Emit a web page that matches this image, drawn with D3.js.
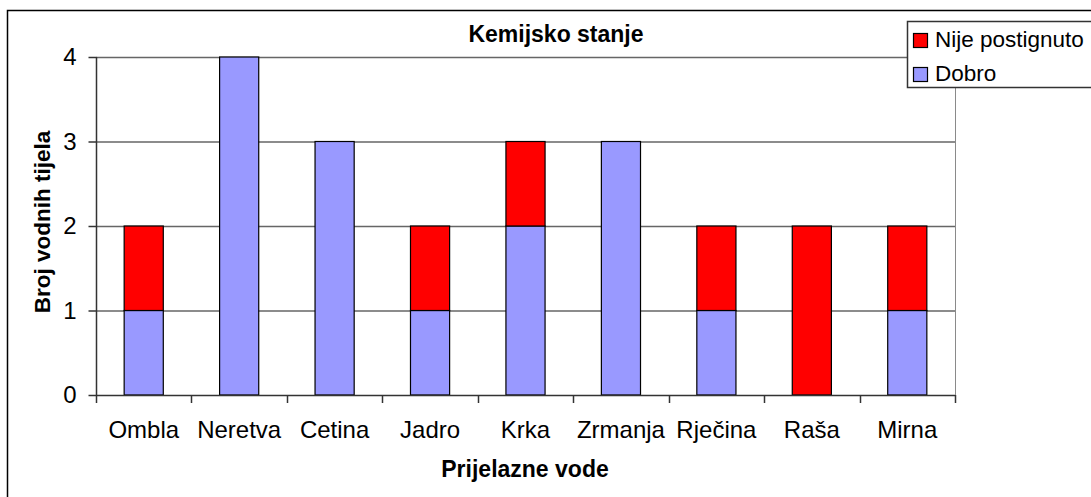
<!DOCTYPE html>
<html>
<head>
<meta charset="utf-8">
<script src="https://cdn.jsdelivr.net/npm/d3@7"></script>
<style>
  body { margin: 0; background: #fff; }
  svg { display: block; font-family: "Liberation Sans", Arial, sans-serif; }
</style>
</head>
<body>
<div id="chart"></div>
<script>
var categories = ["Ombla", "Neretva", "Cetina", "Jadro", "Krka", "Zrmanja", "Rječina", "Raša", "Mirna"];
var dobro = [1, 4, 3, 1, 2, 3, 1, 0, 1];
var nijePostignuto = [1, 0, 0, 1, 1, 0, 1, 2, 1];
var yTicks = [0, 1, 2, 3, 4];
var seriesNames = ["Nije postignuto", "Dobro"];

document.addEventListener('DOMContentLoaded', main);

function main() {
    var width = 1091, height = 497;
    var left = 96, right = 955, top = 57, bottom = 395;

    var svg = d3.select("#chart")
        .append("svg")
        .attr("width", width)
        .attr("height", height);

    // outer chart frame (runs off the right and bottom edges)
    svg.append("rect")
        .attr("x", 7.5).attr("y", 10.5)
        .attr("width", 1100).attr("height", 500)
        .attr("fill", "#fff")
        .attr("stroke", "#000")
        .attr("stroke-width", 1.5);

    var x = d3.scaleBand().domain(categories).range([left, right]).padding(0);
    var y = d3.scaleLinear().domain([0, 4]).range([bottom, top]);
    var barW = x.bandwidth() * 0.41;

    // gridlines
    svg.append("g")
        .selectAll("line")
        .data(yTicks.slice(1))
        .enter().append("line")
        .attr("x1", left).attr("x2", right)
        .attr("y1", function (d) { return y(d) + 0.5; })
        .attr("y2", function (d) { return y(d) + 0.5; })
        .attr("stroke", "#666")
        .attr("stroke-width", 1.3);

    // right edge of plot area
    svg.append("line")
        .attr("x1", right + 0.5).attr("x2", right + 0.5)
        .attr("y1", top).attr("y2", bottom)
        .attr("stroke", "#8a8a8a");

    var stacked = categories.map(function (c, i) {
        return { cat: c, dobro: dobro[i], nije: nijePostignuto[i] };
    });

    var bars = svg.append("g");
    stacked.forEach(function (d) {
        var cx = x(d.cat) + x.bandwidth() / 2;
        if (d.dobro > 0) {
            bars.append("rect")
                .attr("x", cx - barW / 2).attr("width", barW)
                .attr("y", y(d.dobro)).attr("height", y(0) - y(d.dobro))
                .attr("fill", "#9999ff")
                .attr("stroke", "#000").attr("stroke-width", 1.2);
        }
        if (d.nije > 0) {
            bars.append("rect")
                .attr("x", cx - barW / 2).attr("width", barW)
                .attr("y", y(d.dobro + d.nije)).attr("height", y(d.dobro) - y(d.dobro + d.nije))
                .attr("fill", "#ff0000")
                .attr("stroke", "#000").attr("stroke-width", 1.2);
        }
    });

    // y axis
    var yAxis = svg.append("g")
        .attr("transform", "translate(" + (left + 0.5) + ",0)")
        .call(d3.axisLeft(y).tickValues(yTicks).tickSize(8).tickPadding(12).tickFormat(d3.format("d")));
    yAxis.select(".domain").attr("stroke", "#333").attr("stroke-width", 1.5).attr("d", "M0," + top + "V" + bottom);
    yAxis.selectAll(".tick line").attr("stroke", "#333").attr("stroke-width", 1.5);
    yAxis.selectAll("text").attr("font-size", 24).attr("fill", "#000")
        .attr("font-family", "Liberation Sans, Arial, sans-serif");

    // x axis
    var xAxis = svg.append("g")
        .attr("transform", "translate(0," + (bottom + 0.5) + ")")
        .call(d3.axisBottom(x).tickSize(0).tickPadding(25));
    xAxis.select(".domain").attr("stroke", "#333").attr("stroke-width", 1.5).attr("d", "M" + left + ",0H" + right);
    xAxis.selectAll("text").attr("font-size", 24).attr("fill", "#000")
        .attr("font-family", "Liberation Sans, Arial, sans-serif");

    // tick marks at category boundaries
    var bounds = categories.map(function (c) { return x(c); }).concat([right]);
    svg.append("g")
        .selectAll("line")
        .data(bounds)
        .enter().append("line")
        .attr("x1", function (d) { return Math.round(d) + 0.5; })
        .attr("x2", function (d) { return Math.round(d) + 0.5; })
        .attr("y1", bottom).attr("y2", bottom + 8)
        .attr("stroke", "#333").attr("stroke-width", 1.5);

    // title and axis labels
    svg.append("text")
        .attr("x", 556).attr("y", 42)
        .attr("text-anchor", "middle")
        .attr("font-size", 23).attr("font-weight", "bold")
        .text("Kemijsko stanje");

    svg.append("text")
        .attr("x", 525).attr("y", 477)
        .attr("text-anchor", "middle")
        .attr("font-size", 23).attr("font-weight", "bold")
        .text("Prijelazne vode");

    svg.append("text")
        .attr("transform", "translate(50,222) rotate(-90)")
        .attr("text-anchor", "middle")
        .attr("font-size", 22.5).attr("font-weight", "bold")
        .text("Broj vodnih tijela");

    // legend
    var legend = svg.append("g");
    legend.append("rect")
        .attr("x", 907.5).attr("y", 21.5)
        .attr("width", 200).attr("height", 66)
        .attr("fill", "#fff")
        .attr("stroke", "#333").attr("stroke-width", 1.5);
    var legendColors = ["#ff0000", "#9999ff"];
    seriesNames.forEach(function (name, i) {
        legend.append("rect")
            .attr("x", 913.5).attr("y", 33.5 + i * 34)
            .attr("width", 14).attr("height", 14)
            .attr("fill", legendColors[i])
            .attr("stroke", "#000").attr("stroke-width", 1.2);
        legend.append("text")
            .attr("x", 935).attr("y", 47 + i * 34)
            .attr("font-size", 22.5)
            .text(name);
    });
}
</script>
</body>
</html>
